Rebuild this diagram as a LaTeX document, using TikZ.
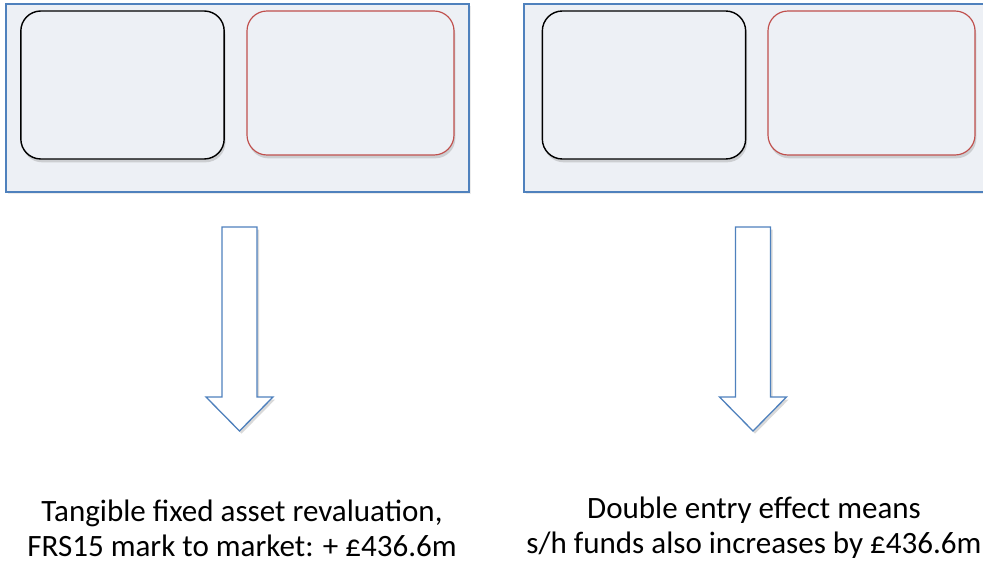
\documentclass[tikz,border=0pt]{standalone}
\usepackage{fontspec}
\setmainfont{Carlito}
\usetikzlibrary{shadows, calc}
\definecolor{panelblue}{HTML}{4F81BD}
\definecolor{panelfill}{HTML}{EDF0F5}
\definecolor{accred}{HTML}{C0504D}
\tikzstyle{panel} = [rectangle, draw=panelblue, line width=1.3pt, fill=panelfill, minimum width=13.89cm, minimum height=5.64cm, drop shadow={opacity=0.15, shadow xshift=0.05cm, shadow yshift=-0.05cm}]
\tikzstyle{account} = [rectangle, rounded corners=0.6cm, draw=black, line width=1.2pt, fill=panelfill, minimum width=6.1cm, minimum height=4.44cm, drop shadow={opacity=0.3, shadow xshift=0.04cm, shadow yshift=-0.1cm}]
\tikzstyle{accountred} = [account, draw=accred, line width=1pt, minimum width=6.21cm, minimum height=4.32cm]
\tikzstyle{bigarrow} = [draw=panelblue, line width=1.1pt, fill=white, drop shadow={opacity=0.3, shadow xshift=0.06cm, shadow yshift=-0.08cm}]
\tikzstyle{caption} = [align=center, font=\fontsize{26.5}{29.8}\selectfont]

\begin{document}
\begin{tikzpicture}[x=0.03cm, y=-0.03cm]
    \useasboundingbox (0,0) rectangle (983,568);
    \begin{scope}
    \clip (0,0) rectangle (983,568);

    \node (panel_l) [panel] at (237.5,98) {};
    \node (panel_r) [panel] at (755.5,98) {};

    \node (dr_l) [account] at (122.5,85) {};
    \node (cr_l) [accountred] at (350.5,83) {};
    \node (dr_r) [account] at (644,85) {};
    \node (cr_r) [accountred] at (871.5,83) {};

    % hollow block arrows under each panel
    \coordinate (arr_l) at (239.5,227);
    \coordinate (arr_r) at (753,227);
    \foreach \a in {arr_l, arr_r} {
        \draw [bigarrow] ($(\a)+(-17.5,0)$) -- ($(\a)+(17.5,0)$) -- ($(\a)+(17.5,170)$)
            -- ($(\a)+(33.5,170)$) -- ($(\a)+(0,204)$) -- ($(\a)+(-33.5,170)$)
            -- ($(\a)+(-17.5,170)$) -- cycle;
    }

    \node (text_l) [caption] at (242,528) {Tangible fixed asset revaluation,\\ FRS15 mark to market: + \pounds436.6m};
    \node (text_r) [caption] at (754,528) {Double entry effect means\\ s/h funds also increases by \pounds436.6m};
    \end{scope}
\end{tikzpicture}
\end{document}
